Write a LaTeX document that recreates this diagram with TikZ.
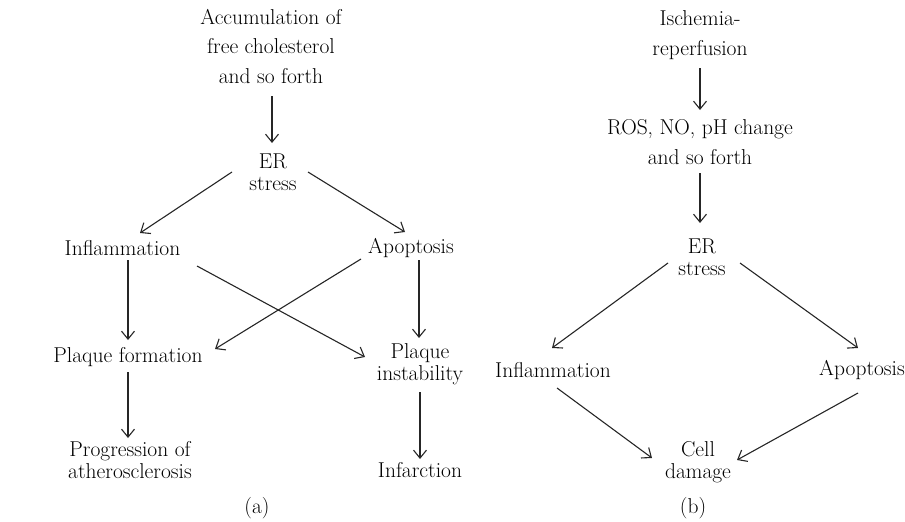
\documentclass[tikz,border=0pt]{standalone}
\usetikzlibrary{arrows.meta}
\begin{document}
\begin{tikzpicture}[x=1pt,y=-1pt,
  lbl/.style={inner sep=0pt, align=center, text=black, font=\fontsize{21.5}{22.5}\selectfont},
  toplbl/.style={lbl, font=\fontsize{21.5}{29.5}\selectfont},
  arr/.style={line width=1.1pt, draw=black!85, -{Straight Barb[length=8pt,width=13pt]}}]
\useasboundingbox (0,0) rectangle (905,522);
% panel (a)
\node[toplbl] (acc) at (271,46) {Accumulation of\\free cholesterol\\and so forth};
\node[lbl] (er1) at (273,172) {ER\\stress};
\node[lbl] (infl1) at (122.5,248) {Inflammation};
\node[lbl] (apo1) at (411,248) {Apoptosis};
\node[lbl] (pf) at (128,357) {Plaque formation};
\node[lbl] (pi) at (420,364) {Plaque\\instability};
\node[lbl] (prog) at (130,460) {Progression of\\atherosclerosis};
\node[lbl] (inf) at (420,470) {Infarction};
\node[lbl] (la) at (257,508) {(a)};
% panel (b)
\node[toplbl] (isch) at (700,35) {Ischemia-\\reperfusion};
\node[toplbl] (ros) at (700,142) {ROS, NO, pH change\\and so forth};
\node[lbl] (er2) at (702,257) {ER\\stress};
\node[lbl] (infl2) at (553,370) {Inflammation};
\node[lbl] (apo2) at (862,370) {Apoptosis};
\node[lbl] (cell) at (698,462) {Cell\\damage};
\node[lbl] (lb) at (693,508) {(b)};
% arrows (a)
\draw[arr] ([shift={(1,50)}]acc.center) -- ([shift={(-1,-29)}]er1.center);
\draw[arr] ([shift={(-41,0)}]er1.center) -- ([shift={(17.5,-15)}]infl1.center);
\draw[arr] ([shift={(35,0)}]er1.center) -- ([shift={(-6,-16)}]apo1.center);
\draw[arr] ([shift={(5.5,12)}]infl1.center) -- ([shift={(0,-17)}]pf.center);
\draw[arr] ([shift={(74.5,18)}]infl1.center) -- ([shift={(-55,-7)}]pi.center);
\draw[arr] ([shift={(-50,11)}]apo1.center) -- ([shift={(87,-8)}]pf.center);
\draw[arr] ([shift={(8,12)}]apo1.center) -- ([shift={(-1,-26)}]pi.center);
\draw[arr] ([shift={(0,15)}]pf.center) -- ([shift={(-2,-22)}]prog.center);
\draw[arr] ([shift={(0,28)}]pi.center) -- ([shift={(0,-11)}]inf.center);
% arrows (b)
\draw[arr] ([shift={(0,33)}]isch.center) -- ([shift={(0,-32)}]ros.center);
\draw[arr] ([shift={(0,31)}]ros.center) -- ([shift={(-2,-34)}]er2.center);
\draw[arr] ([shift={(-34,6)}]er2.center) -- ([shift={(-1,-22)}]infl2.center);
\draw[arr] ([shift={(38,6)}]er2.center) -- ([shift={(-4,-22)}]apo2.center);
\draw[arr] ([shift={(4,18)}]infl2.center) -- ([shift={(-46,-4)}]cell.center);
\draw[arr] ([shift={(-4,23)}]apo2.center) -- ([shift={(39,-2)}]cell.center);
\end{tikzpicture}
\end{document}
